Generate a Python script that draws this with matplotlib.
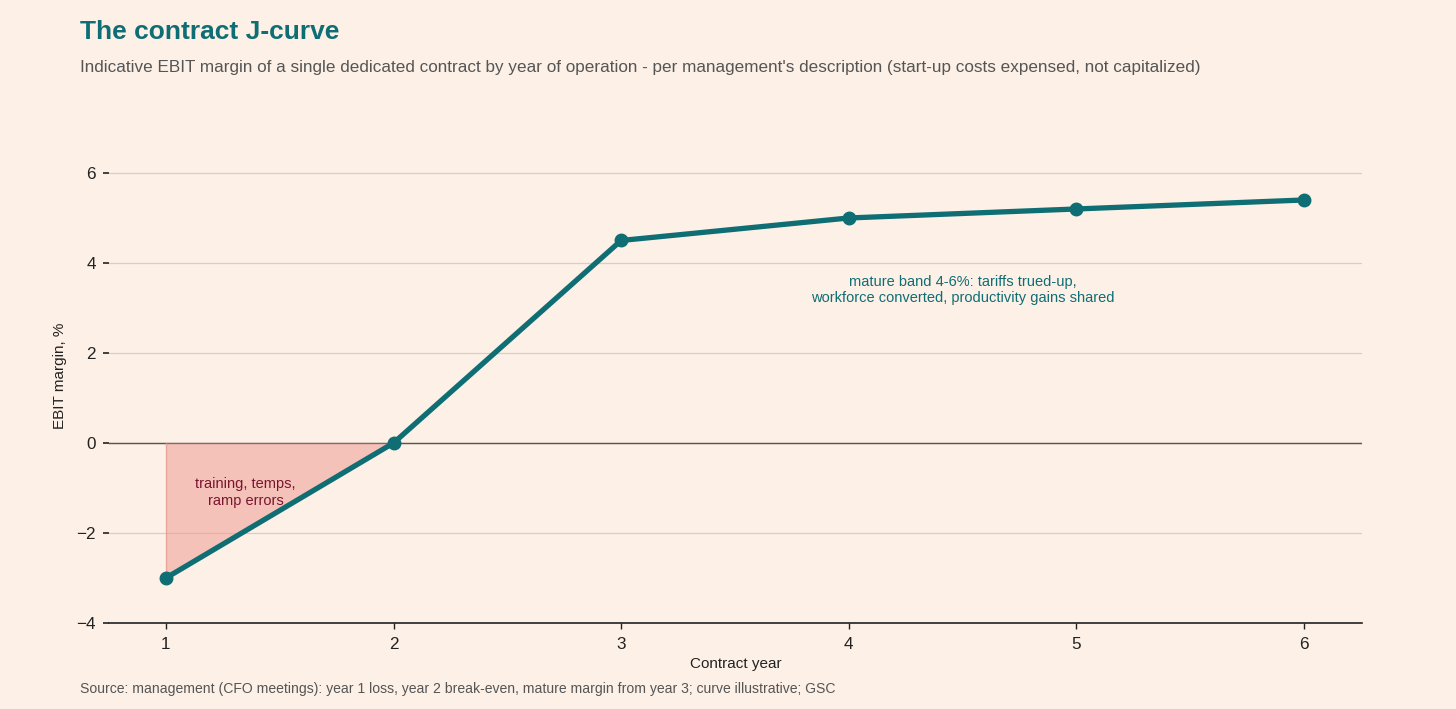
import matplotlib.pyplot as plt
import numpy as np

plt.rcParams['font.family'] = ['Liberation Sans', 'DejaVu Sans']

# DATA
years = np.array([1, 2, 3, 4, 5, 6])
ebit_margin = np.array([-3.0, 0.0, 4.5, 5.0, 5.2, 5.4])
y_ticks = [-4, -2, 0, 2, 4, 6]

bg = '#fdf0e6'
teal = '#0e6e74'

fig = plt.figure(figsize=(14.56, 7.09), dpi=100, facecolor=bg)
ax = fig.add_axes([109 / 1456, 0.1213, 1253 / 1456, 0.6982], facecolor=bg)

ax.grid(axis='y', color='#dcccc2', linewidth=0.9)
ax.set_axisbelow(True)
ax.axhline(0, color='#555555', linewidth=1.0, zorder=1)

# start-up loss wedge (year 1 -> break-even)
ax.fill_between(years[:2], ebit_margin[:2], 0, color='#ee9d93', alpha=0.55,
                linewidth=0, zorder=2)
ax.plot([years[0], years[0]], [ebit_margin[0], 0], color='#e3908a',
        linewidth=1.0, alpha=0.7, zorder=2)

ax.plot(years, ebit_margin, color=teal, linewidth=3.8, marker='o',
        markersize=9, zorder=3)

ax.text(1.35, -1.1, "training, temps,\nramp errors", ha='center', va='center',
        fontsize=10.5, color='#7a1530', zorder=4)
ax.text(4.5, 3.4, "mature band 4-6%: tariffs trued-up,\nworkforce converted, productivity gains shared",
        ha='center', va='center', fontsize=10.5, color=teal, zorder=4)

ax.set_xlim(0.75, 6.255)
ax.set_ylim(-4, 7)
ax.set_xticks(years)
ax.set_yticks(y_ticks)
ax.tick_params(axis='both', labelsize=12.3, colors='#222222')
ax.tick_params(axis='x', length=4, width=1.0, pad=6)
ax.tick_params(axis='y', length=4.3, width=1.2, pad=5)
for s in ['top', 'right', 'left']:
    ax.spines[s].set_visible(False)
ax.spines['bottom'].set_color('#222222')
ax.spines['bottom'].set_linewidth(1.2)

ax.set_xlabel("Contract year", fontsize=11, color='#222222', labelpad=4)
ax.set_ylabel("EBIT margin, %", fontsize=11, color='#222222', labelpad=7)

fig.text(0.055, 0.945, "The contract J-curve", fontsize=19, fontweight='bold',
         color=teal, va='baseline')
fig.text(0.055, 0.898, "Indicative EBIT margin of a single dedicated contract by year of operation - per management's description (start-up costs expensed, not capitalized)",
         fontsize=12.35, color='#555555', va='baseline')
fig.text(0.055, 0.022, "Source: management (CFO meetings): year 1 loss, year 2 break-even, mature margin from year 3; curve illustrative; GSC",
         fontsize=10.1, color='#555555', va='baseline')

fig.savefig("out.png", dpi=100, facecolor=bg)
